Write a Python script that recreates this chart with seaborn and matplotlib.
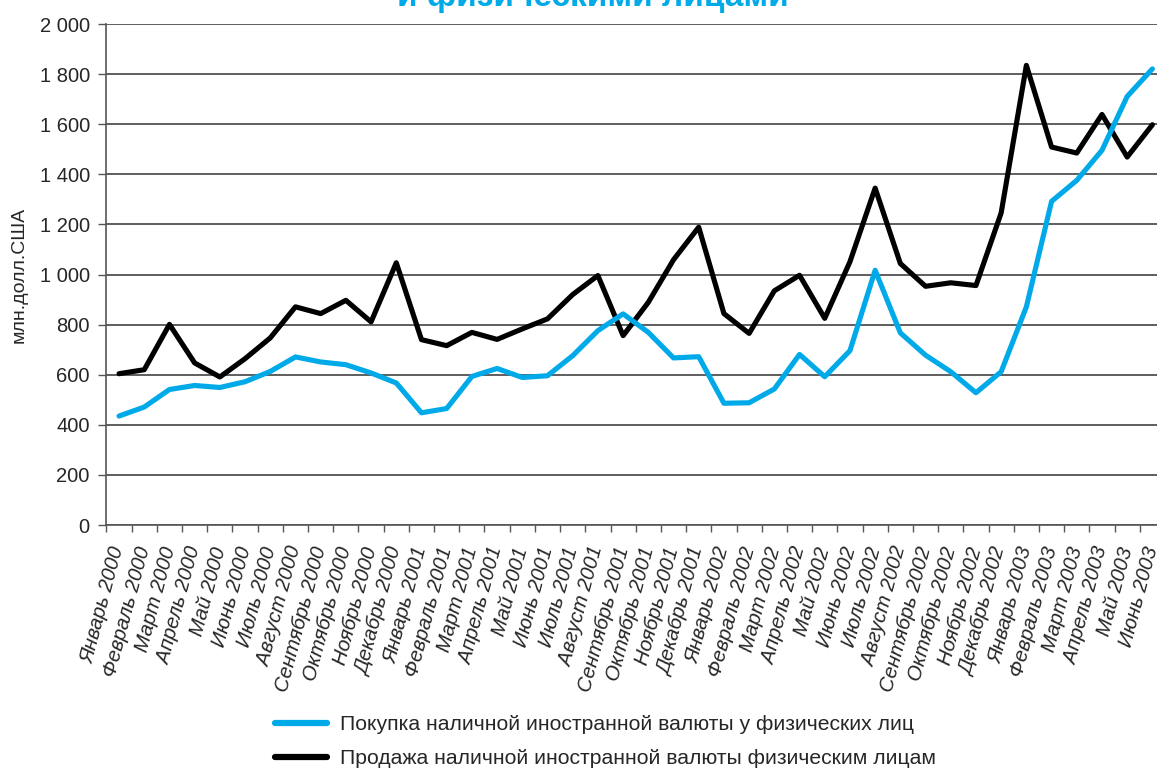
import numpy as np
import pandas as pd
import seaborn as sns
import matplotlib.pyplot as plt
from matplotlib.ticker import FuncFormatter

months = ["Январь", "Февраль", "Март", "Апрель", "Май", "Июнь",
          "Июль", "Август", "Сентябрь", "Октябрь", "Ноябрь", "Декабрь"]
years = [2000, 2001, 2002, 2003]
labels = [f"{m} {y}" for y in years for m in months][:42]

buy_name = "Покупка наличной иностранной валюты у физических лиц"
sell_name = "Продажа наличной иностранной валюты физическим лицам"

buy = [435, 471, 541, 557, 549, 572, 613, 671, 651, 640, 607, 567,
       448, 465, 593, 625, 589, 596, 676, 776, 843, 769, 667, 672,
       486, 488, 543, 681, 592, 696, 1017, 767, 678, 612, 528, 612,
       871, 1292, 1376, 1496, 1711, 1821]
sell = [604, 620, 801, 647, 591, 664, 747, 871, 844, 897, 811, 1047,
        740, 716, 769, 741, 783, 823, 920, 996, 756, 889, 1059, 1189,
        844, 765, 935, 997, 825, 1051, 1345, 1044, 953, 967, 956, 1246,
        1835, 1509, 1485, 1639, 1469, 1598]

df = pd.DataFrame({
    "month": labels * 2,
    "series": [buy_name] * len(buy) + [sell_name] * len(sell),
    "value": buy + sell,
})

sns.set_style("white")
plt.rcParams["font.family"] = ["Liberation Sans", "DejaVu Sans"]

BLUE = "#00AAE8"

fig = plt.figure(figsize=(11.57, 7.68), dpi=100)
ax = fig.add_axes([0.092, 0.3164, 0.9149, 0.6523])

sns.lineplot(data=df, x="month", y="value", hue="series",
             palette={buy_name: BLUE, sell_name: "black"},
             linewidth=3.7, sort=False, ax=ax)
# blue line sits on top of the black one
ax.lines[0].set_zorder(4)
ax.lines[1].set_zorder(3)

ax.set_xlim(-0.5, 41.5)
ax.set_ylim(0, 2000)
ax.set_yticks(range(0, 2001, 200))
ax.yaxis.set_major_formatter(FuncFormatter(lambda v, p: f"{int(v):,}".replace(",", " ")))
ax.grid(axis="y", color="#333333", linewidth=1.1)
ax.set_axisbelow(True)

ax.set_xticks(range(42))
ax.set_xticklabels(labels, rotation=75, ha="right", va="center",
                   rotation_mode="anchor", style="italic", fontsize=14.7)
ax.set_xticks(np.arange(-0.5, 42, 1), minor=True)
ax.tick_params(axis="x", which="major", length=0, pad=16)
ax.tick_params(axis="x", which="minor", length=5, width=1, color="#555555")
ax.tick_params(axis="y", length=6, width=1, color="#555555", pad=6, labelsize=14.5)
ax.tick_params(left=True, bottom=True, which="both")

for s in ["top", "right"]:
    ax.spines[s].set_visible(False)
for s in ["left", "bottom"]:
    ax.spines[s].set_color("#555555")
    ax.spines[s].set_linewidth(1.2)

ax.set_xlabel("")
ax.set_ylabel("млн.долл.США", fontsize=14)
ax.yaxis.set_label_coords(-0.074, 0.5)

handles, names = ax.get_legend_handles_labels()
for h in handles:
    h.set_linewidth(4.5)
ax.legend(handles, names, loc="upper left", bbox_to_anchor=(0.2377, 0.0684),
          bbox_transform=fig.transFigure, frameon=False, fontsize=15.2,
          borderpad=0, borderaxespad=0, handlelength=2.45, handletextpad=0.62,
          labelspacing=0.7)

fig.text(0.512, 1 - 6 / 768, "и физическими лицами", ha="center", va="baseline",
         fontsize=24, fontweight="bold", color=BLUE)

fig.savefig("out.png", dpi=100)
